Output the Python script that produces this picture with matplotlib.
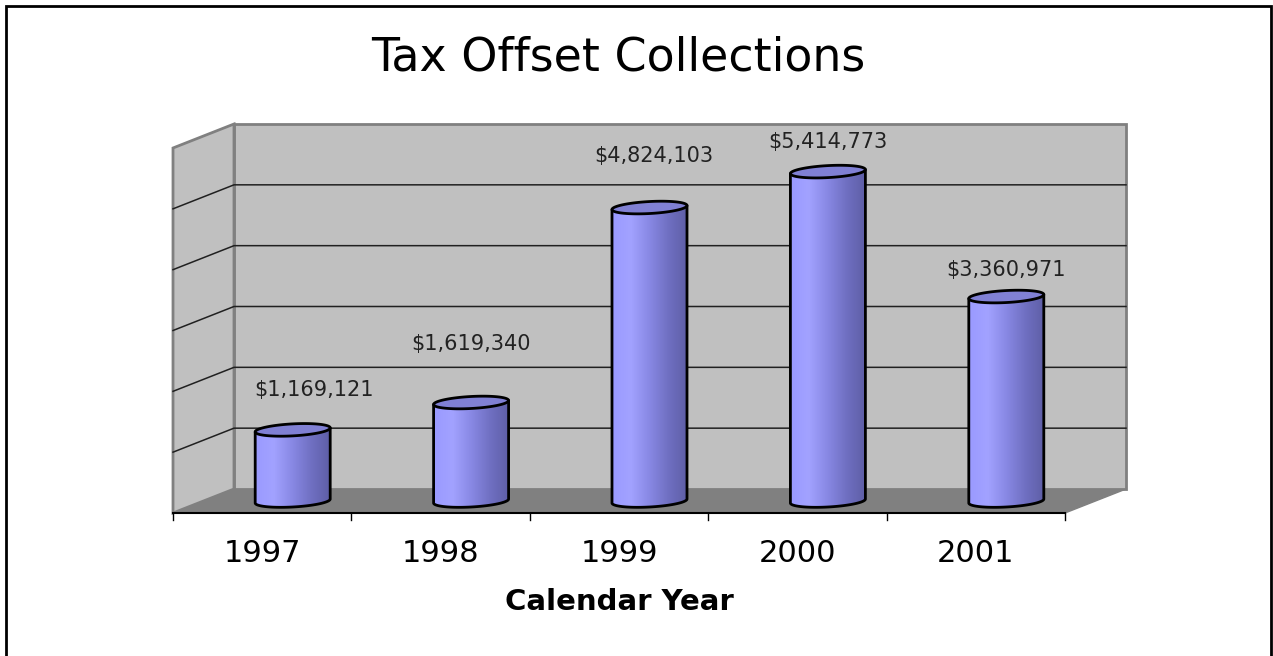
import numpy as np
import matplotlib
matplotlib.use('Agg')
import matplotlib.pyplot as plt
from matplotlib.patches import Polygon, Rectangle

years = ['1997', '1998', '1999', '2000', '2001']
collections = [1169121, 1619340, 4824103, 5414773, 3360971]
gridlines = [1e6, 2e6, 3e6, 4e6, 5e6]

# pixel nudges for the value labels (x shift, gap above cylinder top)
label_dx = [21, 0, 4, 0, 0]
label_gap = [40, 58, 52, 30, 27]

W, H = 1273, 656
fig = plt.figure(figsize=(W / 100, H / 100), dpi=100)
fig.patch.set_facecolor('white')

# front plane of the 3d box
ax = fig.add_axes([173 / W, (H - 513) / H, (1065 - 173) / W, (513 - 148) / H])
ax.set_xlim(-0.5, 4.5)
ax.set_ylim(0, 6e6)
ax.axis('off')

px_x = 1.0 / 178.4          # category units per pixel
px_y = 6e6 / 365.0          # dollars per pixel
DX = 61 * px_x              # depth shift of the back wall
DY = 24 * px_y


def proj(x, v, d):
    return (x + d * DX, v + d * DY)


# floor
floor = [proj(-0.5, 0, 0), proj(4.5, 0, 0), proj(4.5, 0, 1), proj(-0.5, 0, 1)]
ax.add_patch(Polygon(floor, closed=True, fc='#808080', ec='#808080', lw=1, clip_on=False))

# back wall
bx0, by0 = proj(-0.5, 0, 1)
bx1, by1 = proj(4.5, 6e6, 1)
ax.add_patch(Rectangle((bx0, by0), bx1 - bx0, by1 - by0, fc='#c0c0c0', ec='#808080',
                       lw=2, clip_on=False))

# left wall
lw_pts = [proj(-0.5, 0, 0), proj(-0.5, 6e6, 0), proj(-0.5, 6e6, 1), proj(-0.5, 0, 1)]
ax.add_patch(Polygon(lw_pts, closed=True, fc='#c0c0c0', ec='#808080', lw=2, clip_on=False))

# gridlines on both walls
for g in gridlines:
    a = proj(-0.5, g, 0)
    b = proj(-0.5, g, 1)
    c = proj(4.5, g, 1)
    ax.plot([a[0], b[0], c[0]], [a[1], b[1], c[1]], color='#202020', lw=1.1, clip_on=False)

# front axis line with ticks
ax.plot([-0.5, 4.5], [0, 0], color='black', lw=1.5, clip_on=False)
for k in range(len(years) + 1):
    ax.plot([k - 0.5, k - 0.5], [0, -7 * px_y], color='black', lw=1, clip_on=False)

# cylinders
half_w = 37.5 * px_x
ry = 6 * px_y
shear = 2 * px_y
t = np.linspace(0, 2 * np.pi, 200)
grad = np.linspace(0, 1, 256)[None, :]
cmap = matplotlib.colors.LinearSegmentedColormap.from_list(
    'cyl', ['#9a9aff', '#a2a2ff', '#8888e4', '#7070c2', '#5e5ea6'])

for i, v in enumerate(collections):
    cx, base = proj(i, 0, 0.5)
    top = base + v
    xs = cx + half_w * np.cos(t)
    ys_off = ry * np.sin(t) + shear * np.cos(t)

    lower = t[(t >= np.pi)]
    upper = t[(t <= np.pi)]
    bx = cx + half_w * np.cos(lower)
    by = base + ry * np.sin(lower) + shear * np.cos(lower)
    tx = cx + half_w * np.cos(upper)
    ty = top + ry * np.sin(upper) + shear * np.cos(upper)
    body = np.column_stack([np.r_[bx, tx], np.r_[by, ty]])
    body_patch = Polygon(body, closed=True, fc='none', ec='none', clip_on=False)
    ax.add_patch(body_patch)
    im = ax.imshow(grad, cmap=cmap, aspect='auto', interpolation='bilinear',
                   extent=(cx - half_w, cx + half_w, base - ry - shear, top + ry + shear),
                   zorder=2)
    im.set_clip_path(body_patch)

    # outline of the side and bottom rim
    ax.plot(np.r_[cx - half_w, bx, cx + half_w],
            np.r_[top - shear, by, top + shear], color='black', lw=2, zorder=3,
            solid_capstyle='round', clip_on=False)
    # lid
    lid = np.column_stack([xs, top + ys_off])
    ax.add_patch(Polygon(lid, closed=True, fc='#8080d4', ec='black', lw=2, zorder=4,
                         clip_on=False))

    ax.annotate(f'${v:,}', xy=(cx, top), xytext=(label_dx[i], label_gap[i]),
                textcoords='offset pixels', ha='center', va='center',
                fontsize=15, color='#222222', zorder=5)

# category labels
for i, yr in enumerate(years):
    ax.annotate(yr, xy=(i, 0), xytext=(0, -40), textcoords='offset pixels',
                ha='center', va='center', fontsize=22, color='black')

ax.annotate('Calendar Year', xy=(2, 0), xytext=(0, -89), textcoords='offset pixels',
            ha='center', va='center', fontsize=21, fontweight='bold', color='black')

fig.text(618 / W, 1 - 58 / H, 'Tax Offset Collections', ha='center', va='center',
         fontsize=33, color='black')

# outer frame
fig.patches.append(Rectangle((6 / W, -0.05), (1271 - 6) / W, 1.05 - 6 / H,
                             transform=fig.transFigure, fill=False, ec='black', lw=2))

fig.savefig('out.png', dpi=100)
